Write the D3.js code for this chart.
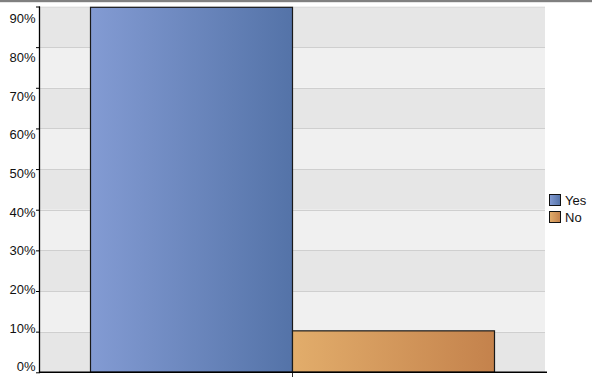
<!DOCTYPE html>
<html>
<head>
<meta charset="utf-8">
<script src="https://cdn.jsdelivr.net/npm/d3@7"></script>
<style>
  html, body { margin: 0; padding: 0; background: #fff; }
  svg { display: block; font-family: "Liberation Sans", Arial, sans-serif; }
</style>
</head>
<body>
<svg id="chart" width="592" height="377"></svg>
<script>
const categories = [""];
const seriesNames = ["Yes", "No"];
const seriesValues = [89.8, 10.2];
const yTicks = [0, 10, 20, 30, 40, 50, 60, 70, 80, 90];
const tickLabels = ["0%", "10%", "20%", "30%", "40%", "50%", "60%", "70%", "80%", "90%"];
const colorsLeft = ["#839bd3", "#e2ad6b"];
const colorsRight = ["#5473a8", "#c4824c"];

const svg = d3.select("#chart");
const W = 592, H = 377;
const plot = { left: 40, right: 545, top: 6.5, bottom: 372.3 };

// top strip
svg.append("rect").attr("x", 0).attr("y", 0).attr("width", W).attr("height", 2.2).attr("fill", "#808080");

const y = d3.scaleLinear().domain([0, 90]).range([plot.bottom, plot.top]);
const yLabel = d3.scaleLinear().domain([0, 90]).range([366, 18]);
const x0 = d3.scaleBand().domain(categories).range([plot.left, plot.right]).paddingInner(0).paddingOuter(0.125);
const x1 = d3.scaleBand().domain(seriesNames).range([0, x0.bandwidth()]).padding(0);

// alternating bands
const bands = yTicks.slice(0, -1).map((t, i) => ({ lo: t, hi: yTicks[i + 1], i }));
svg.append("g").selectAll("rect").data(bands).join("rect")
  .attr("x", plot.left).attr("width", plot.right - plot.left)
  .attr("y", d => y(d.hi)).attr("height", d => y(d.lo) - y(d.hi))
  .attr("fill", d => d.i % 2 === 0 ? "#e6e6e6" : "#f0f0f0");

// gridlines
svg.append("g").selectAll("line").data(yTicks.slice(1)).join("line")
  .attr("x1", plot.left).attr("x2", plot.right)
  .attr("y1", d => Math.round(y(d)) + 0.5).attr("y2", d => Math.round(y(d)) + 0.5)
  .attr("stroke", d => d === 90 ? "#dcdcdc" : "#cfcfcf").attr("stroke-width", 1);

// gradients
const defs = svg.append("defs");
seriesNames.forEach((s, i) => {
  const g = defs.append("linearGradient").attr("id", "grad" + i)
    .attr("x1", "0%").attr("x2", "100%").attr("y1", "0%").attr("y2", "0%");
  g.append("stop").attr("offset", "0%").attr("stop-color", colorsLeft[i]);
  g.append("stop").attr("offset", "100%").attr("stop-color", colorsRight[i]);
});

// bars
const barData = seriesNames.map((s, i) => ({ s, i, v: seriesValues[i], c: categories[0] }));
svg.append("g").selectAll("rect").data(barData).join("rect")
  .attr("x", d => x0(d.c) + x1(d.s))
  .attr("width", x1.bandwidth())
  .attr("y", d => y(d.v))
  .attr("height", d => y(0) - y(d.v))
  .attr("fill", d => "url(#grad" + d.i + ")")
  .attr("stroke", "#1a1a1a").attr("stroke-width", 1.2);

// y axis
const yAxis = d3.axisLeft(y).tickValues(yTicks).tickSize(4).tickPadding(4)
  .tickFormat((d, i) => tickLabels[i]);
const gy = svg.append("g").attr("transform", `translate(${plot.left},0)`).call(yAxis);
gy.select(".domain").remove();
gy.selectAll(".tick line").attr("stroke", "#000").attr("stroke-width", 1);
gy.selectAll(".tick text")
  .attr("font-size", 13).attr("fill", "#111")
  .attr("x", -4.5)
  .attr("dy", "0.36em")
  .attr("y", d => yLabel(d) - y(d));
svg.append("line").attr("x1", plot.left - 0.5).attr("x2", plot.left - 0.5)
  .attr("y1", plot.top).attr("y2", plot.bottom + 0.7)
  .attr("stroke", "#000").attr("stroke-width", 1.3);

// x axis
const xAxis = d3.axisBottom(x0).tickSize(5).tickFormat("");
const gx = svg.append("g").attr("transform", `translate(0,${plot.bottom})`).call(xAxis);
gx.select(".domain").remove();
gx.selectAll(".tick line").attr("stroke", "#333");
svg.append("line").attr("x1", plot.left - 1).attr("x2", plot.right + 2)
  .attr("y1", plot.bottom).attr("y2", plot.bottom)
  .attr("stroke", "#000").attr("stroke-width", 1.4);

// legend
const leg = svg.append("g").attr("transform", "translate(549,194)");
const li = leg.selectAll("g").data(seriesNames).join("g")
  .attr("transform", (d, i) => `translate(0,${i * 17})`);
li.append("rect").attr("x", 0.5).attr("y", 0.5).attr("width", 11).attr("height", 11)
  .attr("fill", (d, i) => "url(#grad" + i + ")")
  .attr("stroke", "#111").attr("stroke-width", 1);
li.append("text").attr("x", 16).attr("y", 6).attr("dy", "0.36em")
  .attr("font-size", 13).attr("fill", "#111").text(d => d);
</script>
</body>
</html>
